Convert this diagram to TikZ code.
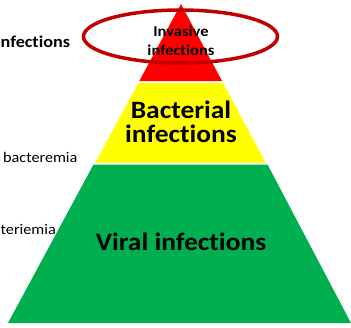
\documentclass[tikz,border=0pt]{standalone}
\usepackage{fontspec}
\setmainfont[FakeStretch=1.1,Ligatures=NoCommon]{Carlito}
\definecolor{pyrred}{HTML}{FF0000}
\definecolor{pyryellow}{HTML}{FFFF00}
\definecolor{pyrgreen}{HTML}{00B050}
\definecolor{ringred}{HTML}{C00000}
\begin{document}
\begin{tikzpicture}[x=1pt,y=-1pt,
  small/.style={font=\fontsize{15}{19}\selectfont\bfseries,align=center},
  big/.style={font=\fontsize{25}{24}\selectfont\bfseries,align=center},
  side/.style={font=\fontsize{14.7}{16}\selectfont,anchor=west,inner sep=0pt}]
\useasboundingbox (0,0) rectangle (351,327);
\coordinate (apex) at (181,4);
\fill[pyrgreen] (93.5,164.5) -- (267.5,164.5) -- (351,323) -- (8,323) -- cycle;
\fill[pyryellow] (138.3,83) -- (223,83) -- (265.5,162.5) -- (95.5,162.5) -- cycle;
\fill[pyrred] (apex) -- (222,81) -- (139.3,81) -- cycle;
\node[small] (inv) at (181,40.5) {Invasive\\infections};
\node[big] (bac) at (181,122) {Bacterial\\infections};
\node[big] (vir) at (181,242) {Viral infections};
\draw[ringred,line width=3.5pt] (180.5,36.5) ellipse [x radius=97, y radius=26.5];
\node[side,font=\fontsize{16.5}{20}\selectfont\bfseries] (l1) at (0.5,42) {nfections};
\node[side] (l2) at (3,157) {bacteremia};
\node[side] (l3) at (0.5,229) {teriemia};
\end{tikzpicture}
\end{document}
